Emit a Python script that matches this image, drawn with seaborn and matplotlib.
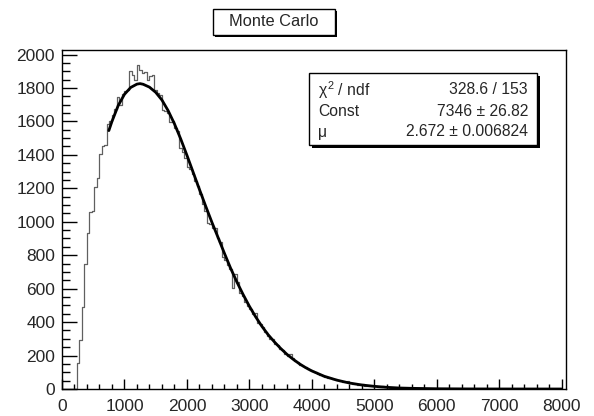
import numpy as np
import pandas as pd
import seaborn as sns
import matplotlib.pyplot as plt
from matplotlib.patches import Rectangle
from matplotlib.ticker import MultipleLocator

# histogram: bins of 40 starting at 0, counts
bin_width = 40
counts = [
    0, 0, 0, 0, 0, 0, 156, 290, 491, 745,
    935, 1057, 1065, 1205, 1260, 1405, 1450, 1460, 1585, 1600,
    1640, 1676, 1746, 1700, 1766, 1780, 1790, 1900, 1880, 1850,
    1936, 1910, 1890, 1893, 1850, 1870, 1880, 1790, 1770, 1760,
    1666, 1660, 1650, 1598, 1600, 1560, 1540, 1440, 1420, 1380,
    1325, 1315, 1285, 1245, 1215, 1165, 1105, 1065, 995, 985,
    960, 960, 905, 880, 790, 770, 740, 720, 605, 690,
    640, 575, 555, 520, 495, 480, 450, 455, 395, 390,
    370, 340, 318, 300, 300, 270, 262, 238, 232, 210,
    198, 210, 185, 170, 160, 142, 140, 132, 118, 113,
    110, 100, 88, 86, 80, 74, 66, 63, 58, 58,
    55, 50, 42, 40, 48, 38, 30, 28, 26, 30,
    28, 20, 18, 17, 16, 20, 14, 14, 16, 12,
    9, 8, 8, 6, 7, 5, 6, 4, 5, 3,
    4, 3, 2, 3, 2, 2, 1, 2, 1, 1,
    1, 1, 0, 1, 1, 0, 0, 1, 0, 0,
]

# fitted curve
fit_x = [750, 800, 900, 1000, 1100, 1200, 1250, 1300, 1400, 1500,
         1600, 1700, 1800, 1900, 2000, 2100, 2200, 2300, 2400, 2500,
         2600, 2700, 2800, 2900, 3000, 3100, 3200, 3300, 3400, 3500,
         3600, 3700, 3800, 3900, 4000, 4200, 4400, 4600, 4800, 5000,
         5200, 5400, 5600, 6000, 6500, 7000, 8000]
fit_y = [1545, 1600, 1695, 1762, 1803, 1823, 1826, 1822, 1805, 1774,
         1728, 1664, 1586, 1496, 1398, 1296, 1194, 1094, 997, 905,
         812, 722, 640, 565, 495, 432, 375, 325, 282, 243,
         208, 178, 151, 128, 108, 76, 53, 36, 24, 16,
         10, 6, 4, 1.5, 0.5, 0.2, 0]

title = "Monte Carlo"
stat_names = [r"$\chi^{2}$ / ndf", "Const", "μ"]
stat_values = ["328.6 / 153", "7346 ± 26.82", "2.672 ± 0.006824"]

sns.set_style("ticks")
plt.rcParams['font.family'] = ['Liberation Sans', 'DejaVu Sans']
plt.rcParams['mathtext.fontset'] = 'custom'
plt.rcParams['mathtext.rm'] = 'Liberation Sans'
plt.rcParams['mathtext.it'] = 'Liberation Sans'
plt.rcParams['mathtext.sf'] = 'Liberation Sans'

W, H = 594, 416
edges = np.arange(0, 8000 + bin_width, bin_width)
full = np.zeros(len(edges) - 1)
full[:len(counts)] = counts
hist_df = pd.DataFrame({'x': edges[:-1] + bin_width / 2, 'n': full})

fig = plt.figure(figsize=(W / 100, H / 100), dpi=100)
ax = fig.add_axes([62 / W, 1 - 389 / H, (566 - 62) / W, (389 - 50) / H])

sns.histplot(data=hist_df, x='x', weights='n', bins=edges.tolist(), element="step",
             fill=False, color="#606060", linewidth=0.9, ax=ax)
sns.lineplot(x=fit_x, y=fit_y, color="black", linewidth=2, ax=ax)

ax.set_xlim(0, 8070)
ax.set_ylim(0, 2027)
ax.set_xlabel("")
ax.set_ylabel("")
ax.xaxis.set_major_locator(MultipleLocator(1000))
ax.xaxis.set_minor_locator(MultipleLocator(200))
ax.yaxis.set_major_locator(MultipleLocator(200))
ax.yaxis.set_minor_locator(MultipleLocator(50))
ax.tick_params(which='both', direction='in', top=False, right=False,
               labelsize=12.5, width=1, color='black', pad=5)
ax.tick_params(axis='x', which='both', pad=7)
ax.tick_params(axis='x', which='major', length=7)
ax.tick_params(axis='x', which='minor', length=3.6)
ax.tick_params(axis='y', which='major', length=10.8)
ax.tick_params(axis='y', which='minor', length=5.4)
for s in ax.spines.values():
    s.set_visible(True)
    s.set_linewidth(1)
    s.set_color('black')


def box(x0, y0, x1, y1, shadow=3):
    # pixel coords from top-left
    fig.add_artist(Rectangle(((x0 + shadow) / W, 1 - (y1 + shadow) / H),
                             (x1 - x0) / W, (y1 - y0) / H,
                             transform=fig.transFigure, color='black', lw=0))
    fig.add_artist(Rectangle((x0 / W, 1 - y1 / H), (x1 - x0) / W, (y1 - y0) / H,
                             transform=fig.transFigure, facecolor='white',
                             edgecolor='black', lw=1))


box(213, 9, 335, 35, shadow=2)
fig.text(274 / W, 1 - 22 / H, title, ha='center', va='center', fontsize=11.8)

box(309, 73, 537, 145, shadow=3)
for i, (n, v) in enumerate(zip(stat_names, stat_values)):
    yy = 1 - (90 + 21 * i) / H
    fig.text(318 / W, yy, n, ha='left', va='center', fontsize=11.3)
    fig.text(528 / W, yy, v, ha='right', va='center', fontsize=11.3)

fig.savefig("out.png", dpi=100)
